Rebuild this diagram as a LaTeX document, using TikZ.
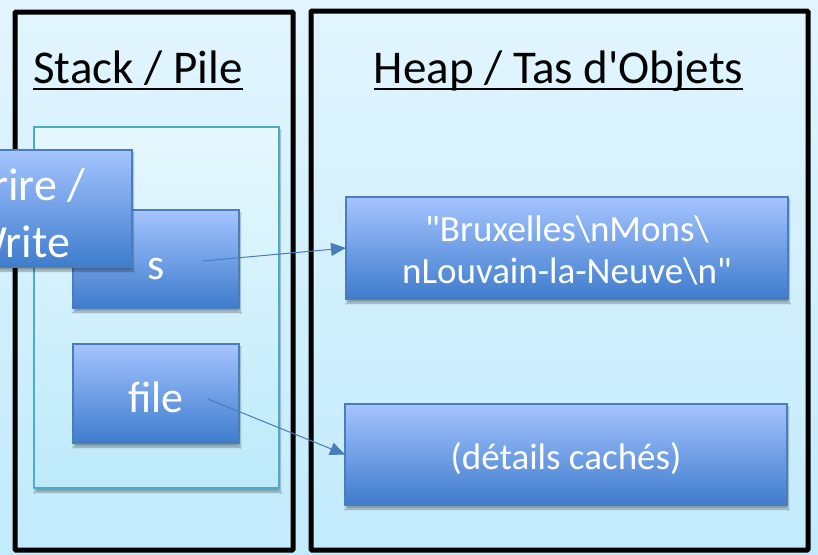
\documentclass[tikz,border=0pt]{standalone}
\usepackage{fontspec}
\setmainfont{Carlito}
\usetikzlibrary{arrows.meta,shadows.blur}
\definecolor{bgtop}{HTML}{E2F5FE}
\definecolor{bgbot}{HTML}{C2EBFC}
\definecolor{frtop}{HTML}{E6F7FE}
\definecolor{frbot}{HTML}{BDEAFB}
\definecolor{frborder}{HTML}{4BACC6}
\definecolor{bxtop}{HTML}{A5C4FF}
\definecolor{bxbot}{HTML}{3E7CCD}
\definecolor{bxborder}{HTML}{4A7EBB}
\tikzset{
  zone/.style={draw=black, line width=5pt, rounded corners=1pt},
  innerframe/.style={draw=frborder, line width=1.6pt, top color=frtop, bottom color=frbot,
     blur shadow={shadow xshift=1pt, shadow yshift=-4pt, shadow opacity=35, shadow blur steps=6}},
  bluebox/.style={draw=bxborder, line width=1.5pt, top color=bxtop, bottom color=bxbot,
     inner sep=0pt, outer sep=0pt,
     blur shadow={shadow xshift=1pt, shadow yshift=-4pt, shadow opacity=35, shadow blur steps=6}},
  title/.style={inner sep=0pt, anchor=base, text=black, font=\fontsize{47}{56}\selectfont},
  boxtext/.style={inner sep=0pt, anchor=base, text=white},
  heaptext/.style={boxtext, font=\fontsize{37}{44}\selectfont},
  ptr/.style={draw=bxborder, line width=1pt, -{Triangle[length=15pt,width=13pt]}, fill=bxborder}
}
\begin{document}
\begin{tikzpicture}[x=1pt,y=-1pt]
\useasboundingbox (0,0) rectangle (818,554);
\clip (0,0) rectangle (818,554);
\shade[top color=bgtop, bottom color=bgbot] (0,0) rectangle (818,554);

% zones
\draw[zone] (15,12) rectangle (293,550);
\draw[zone] (311,11) rectangle (808,550);

% titles
\node[title] (stt) at (138,83) {Stack / Pile};
\draw[line width=2.5pt] ([yshift=-6pt]stt.base west) -- ([yshift=-6pt]stt.base east);
\node[title] (hpt) at (558.5,83) {Heap / Tas d\textquotesingle Objets};
\draw[line width=2.5pt] ([yshift=-6pt]hpt.base west) -- ([yshift=-6pt]hpt.base east);

% stack frame
\path[innerframe] (34,127) rectangle (279,488);

% stack variables
\node[bluebox, minimum width=166pt, minimum height=98pt] (s) at (156,259) {};
\node[boxtext, font=\fontsize{44}{53}\selectfont] (stxt) at (156,279) {s};
\node[bluebox, minimum width=166pt, minimum height=99pt] (file) at (156,393.5) {};
\node[boxtext, font=\fontsize{44}{53}\selectfont] (ftxt) at (156,412) {file};

% Ecrire / Write box
\node[bluebox, minimum width=230pt, minimum height=117pt] (ew) at (17,208.5) {};
\node[boxtext, font=\fontsize{46}{55}\selectfont] (ew1) at (18,200) {Écrire /};
\node[boxtext, font=\fontsize{46}{55}\selectfont] (ew2) at (18,257) {Write};

% heap objects
\node[bluebox, minimum width=442pt, minimum height=102pt] (str) at (567,248) {};
\node[heaptext] (str1) at (567,241) {\textquotedbl Bruxelles\textbackslash nMons\textbackslash};
\node[heaptext] (str2) at (567,283) {nLouvain-la-Neuve\textbackslash n\textquotedbl};
\node[bluebox, minimum width=442pt, minimum height=101pt] (det) at (566,454.5) {};
\node[heaptext] (dtxt) at (566,469) {(détails cachés)};

% pointers
\coordinate (sp) at (203,261);
\coordinate (fp) at (208,399);
\draw[ptr] (sp) -- (str.west);
\draw[ptr] (fp) -- (det.west);
\end{tikzpicture}
\end{document}
